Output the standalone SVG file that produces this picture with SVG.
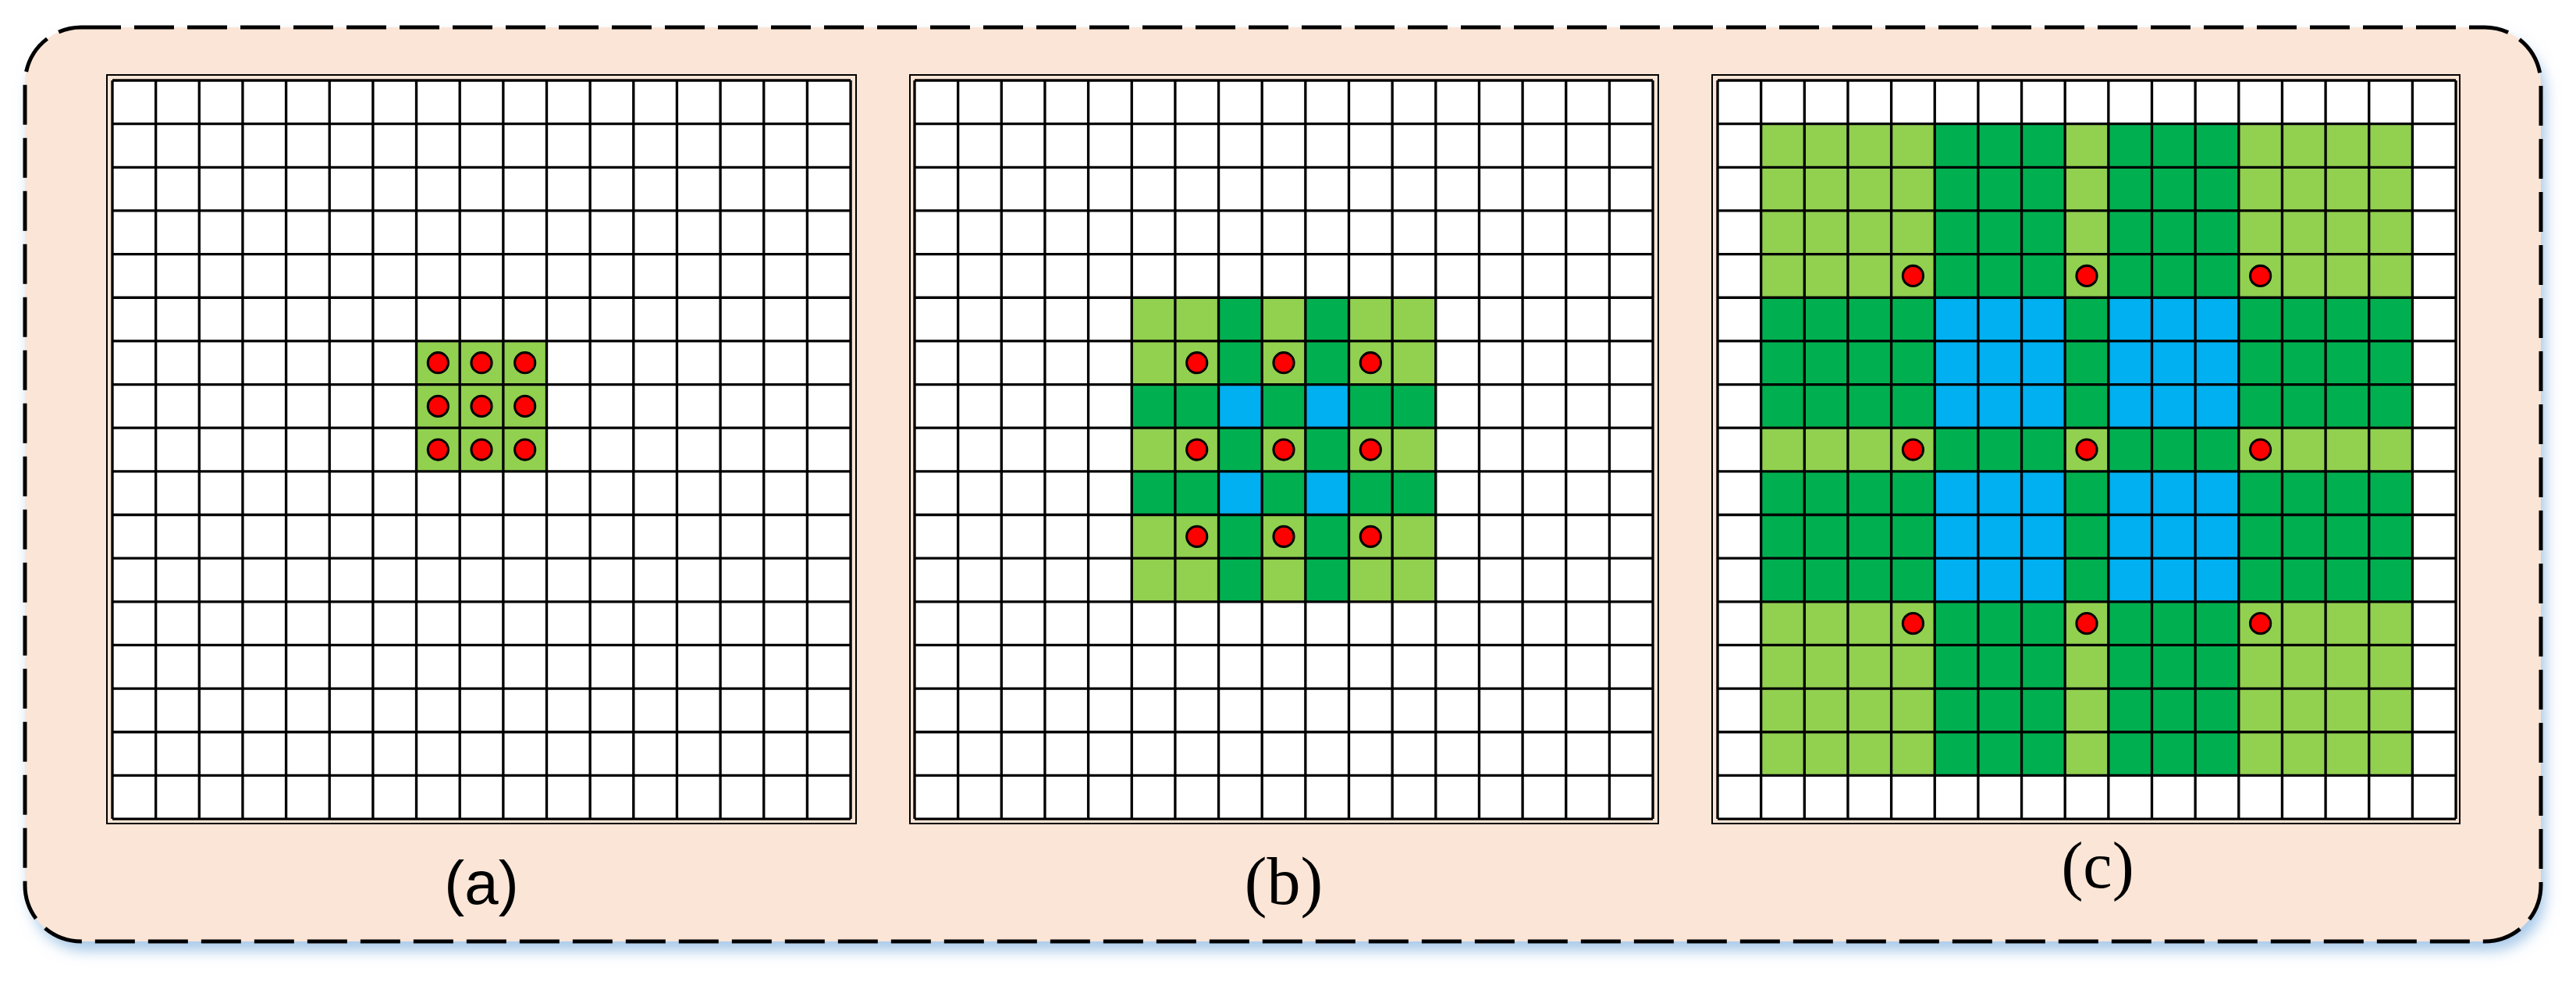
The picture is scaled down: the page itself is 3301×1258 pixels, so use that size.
<svg xmlns="http://www.w3.org/2000/svg" xmlns:xlink="http://www.w3.org/1999/xlink" width="3301" height="1258" viewBox="0 0 3301 1258">
<style>
.L{fill:#92D050}.D{fill:#00B050}.B{fill:#00B0F0}
.grid{fill:none;stroke:#000;stroke-width:0.06}
.dot{fill:#FF0000;stroke:#000;stroke-width:0.055}
.frame{fill:none;stroke:#000;stroke-width:2}
.lblS{font-family:"Liberation Sans",Arial,sans-serif;font-size:78px;fill:#000;text-anchor:middle}
.lblT{font-family:"Liberation Serif","Times New Roman",serif;fill:#000;text-anchor:middle}
</style>
<defs>
<filter id="sh" x="-5%" y="-5%" width="110%" height="115%">
<feDropShadow dx="6" dy="12" stdDeviation="9" flood-color="#9DC3E6" flood-opacity="0.9"/>
</filter>
<path id="gridlines" class="grid" d="M0 0V17M1 0V17M2 0V17M3 0V17M4 0V17M5 0V17M6 0V17M7 0V17M8 0V17M9 0V17M10 0V17M11 0V17M12 0V17M13 0V17M14 0V17M15 0V17M16 0V17M17 0V17M0 0H17M0 1H17M0 2H17M0 3H17M0 4H17M0 5H17M0 6H17M0 7H17M0 8H17M0 9H17M0 10H17M0 11H17M0 12H17M0 13H17M0 14H17M0 15H17M0 16H17M0 17H17"/>
<circle id="dot" class="dot" r="0.235"/>
</defs>
<g id="background">
<rect x="32" y="35" width="3224" height="1171" rx="72" ry="72" fill="#FBE5D6" filter="url(#sh)"/>
<rect x="32" y="35" width="3224" height="1171" rx="72" ry="72" fill="none" stroke="#000" stroke-width="5" stroke-dasharray="51 17"/>
</g>
<g id="panel-a">
<rect class="frame" x="137" y="96" width="960" height="959"/>
<g transform="translate(144,103) scale(55.65)">
<rect x="0" y="0" width="17" height="17" fill="#fff"/>
<rect class="L" x="7" y="6" width="3" height="3"/>
<use xlink:href="#gridlines"/>
<use xlink:href="#dot" x="7.5" y="6.5"/><use xlink:href="#dot" x="8.5" y="6.5"/><use xlink:href="#dot" x="9.5" y="6.5"/>
<use xlink:href="#dot" x="7.5" y="7.5"/><use xlink:href="#dot" x="8.5" y="7.5"/><use xlink:href="#dot" x="9.5" y="7.5"/>
<use xlink:href="#dot" x="7.5" y="8.5"/><use xlink:href="#dot" x="8.5" y="8.5"/><use xlink:href="#dot" x="9.5" y="8.5"/>
</g>
<text class="lblS" x="617" y="1158">(a)</text>
</g>
<g id="panel-b">
<rect class="frame" x="1166" y="96" width="959" height="959"/>
<g transform="translate(1172,103) scale(55.65)">
<rect x="0" y="0" width="17" height="17" fill="#fff"/>
<rect class="L" x="5" y="5" width="7" height="7"/>
<rect class="D" x="7" y="5" width="1" height="7"/><rect class="D" x="9" y="5" width="1" height="7"/>
<rect class="D" x="5" y="7" width="7" height="1"/><rect class="D" x="5" y="9" width="7" height="1"/>
<rect class="B" x="7" y="7" width="1" height="1"/><rect class="B" x="9" y="7" width="1" height="1"/>
<rect class="B" x="7" y="9" width="1" height="1"/><rect class="B" x="9" y="9" width="1" height="1"/>
<use xlink:href="#gridlines"/>
<use xlink:href="#dot" x="6.5" y="6.5"/><use xlink:href="#dot" x="8.5" y="6.5"/><use xlink:href="#dot" x="10.5" y="6.5"/>
<use xlink:href="#dot" x="6.5" y="8.5"/><use xlink:href="#dot" x="8.5" y="8.5"/><use xlink:href="#dot" x="10.5" y="8.5"/>
<use xlink:href="#dot" x="6.5" y="10.5"/><use xlink:href="#dot" x="8.5" y="10.5"/><use xlink:href="#dot" x="10.5" y="10.5"/>
</g>
<text class="lblT" x="1645" y="1158" font-size="86">(b)</text>
</g>
<g id="panel-c">
<rect class="frame" x="2194" y="96" width="958" height="959"/>
<g transform="translate(2201,103) scale(55.65)">
<rect x="0" y="0" width="17" height="17" fill="#fff"/>
<rect class="L" x="1" y="1" width="15" height="15"/>
<rect class="D" x="5" y="1" width="3" height="15"/><rect class="D" x="9" y="1" width="3" height="15"/>
<rect class="D" x="1" y="5" width="15" height="3"/><rect class="D" x="1" y="9" width="15" height="3"/>
<rect class="B" x="5" y="5" width="3" height="3"/><rect class="B" x="9" y="5" width="3" height="3"/>
<rect class="B" x="5" y="9" width="3" height="3"/><rect class="B" x="9" y="9" width="3" height="3"/>
<use xlink:href="#gridlines"/>
<use xlink:href="#dot" x="4.5" y="4.5"/><use xlink:href="#dot" x="8.5" y="4.5"/><use xlink:href="#dot" x="12.5" y="4.5"/>
<use xlink:href="#dot" x="4.5" y="8.5"/><use xlink:href="#dot" x="8.5" y="8.5"/><use xlink:href="#dot" x="12.5" y="8.5"/>
<use xlink:href="#dot" x="4.5" y="12.5"/><use xlink:href="#dot" x="8.5" y="12.5"/><use xlink:href="#dot" x="12.5" y="12.5"/>
</g>
<text class="lblT" x="2688" y="1137" font-size="84">(c)</text>
</g>
<g id="connectors"/>
</svg>
